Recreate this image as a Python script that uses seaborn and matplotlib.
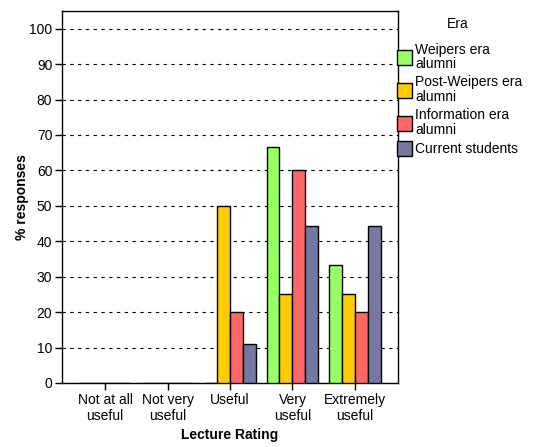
import matplotlib
matplotlib.use("Agg")
import matplotlib.pyplot as plt
import seaborn as sns
import pandas as pd
from matplotlib.patches import Patch

categories = ["Not at all\nuseful", "Not very\nuseful", "Useful", "Very\nuseful", "Extremely\nuseful"]
series = ["Weipers era\nalumni", "Post-Weipers era\nalumni", "Information era\nalumni", "Current students"]
weipers = [0, 0, 0, 66.7, 33.3]
post_weipers = [0, 0, 50, 25, 25]
information = [0, 0, 20, 60, 20]
current = [0, 0, 11.1, 44.4, 44.4]
colors = ["#99FF66", "#FFCC00", "#FF6666", "#7777A4"]
yticks = list(range(0, 101, 10))

rows = []
for s, vals in zip(series, [weipers, post_weipers, information, current]):
    for c, v in zip(categories, vals):
        rows.append({"Lecture Rating": c, "Era": s, "pct": v})
df = pd.DataFrame(rows)

sns.set_style("white")
plt.rcParams['font.family'] = ['Liberation Sans', 'DejaVu Sans']
plt.rcParams['text.color'] = 'black'
plt.rcParams['axes.labelcolor'] = 'black'
plt.rcParams['xtick.color'] = 'black'
plt.rcParams['ytick.color'] = 'black'

fig = plt.figure(figsize=(5.34, 4.47), dpi=100)
ax = fig.add_axes([62/534, 1-383/447, 336/534, 372/447])

sns.barplot(data=df, x="Lecture Rating", y="pct", hue="Era", order=categories,
            hue_order=series, palette=colors, saturation=1, width=0.83,
            edgecolor="black", linewidth=1.0, ax=ax, legend=False, zorder=3)

ax.set_ylim(0, 105)
ax.set_xlim(-0.69, 4.69)
ax.set_yticks(yticks)
ax.set_yticklabels([str(t) for t in yticks], fontsize=10)
ax.tick_params(axis="x", labelsize=10)
for y in yticks[1:]:
    ax.axhline(y, color="black", linestyle=(0, (3, 4)), linewidth=0.8, zorder=1)
ax.tick_params(axis="both", direction="out", length=5, width=1, colors="black", left=True, bottom=True, pad=2)
for sp in ax.spines.values():
    sp.set_color("black")
    sp.set_linewidth(1)
ax.set_xlabel("Lecture Rating", fontsize=10, fontweight="bold", labelpad=4)
ax.set_ylabel("% responses", fontsize=10, fontweight="bold", labelpad=0)

handles = [Patch(facecolor=c, edgecolor="black", linewidth=1) for c in colors]
leg = fig.legend(handles, series, loc="upper left",
                 bbox_to_anchor=(391/534, 1-37/447), frameon=False, fontsize=10,
                 handlelength=1.08, handleheight=1.3,
                 handletextpad=0.25, labelspacing=0.3, borderaxespad=0)
for t in leg.get_texts():
    t.set_linespacing(1.05)
fig.text(458/534, 1-24/447, "Era", ha="center", va="center", fontsize=10)

fig.savefig("out.png", dpi=100)
